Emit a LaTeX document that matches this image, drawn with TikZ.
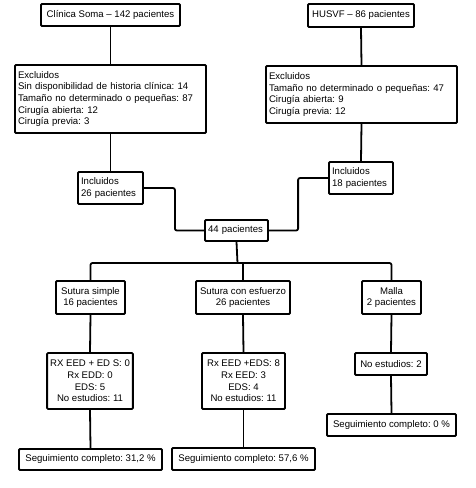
\documentclass[tikz,border=0pt]{standalone}
\usepackage{fontspec}
\setmainfont{Liberation Sans}
\frenchspacing
\begin{document}
\begin{tikzpicture}[x=1pt,y=-1pt,
  every node/.style={font=\fontsize{9.6}{11.7}\selectfont},
  box/.style={draw, line width=1.8pt, rounded corners=1pt, inner xsep=3pt, inner ysep=0pt, fill=white},
  lbox/.style={box, align=left},
  cbox/.style={box, align=center},
  conn/.style={line width=1.8pt, rounded corners=2pt}]
\useasboundingbox (0,0) rectangle (475,488);
% nodes
\node[cbox, minimum width=139pt, minimum height=22pt] (A) at (110.5,15) {Clínica Soma – 142 pacientes};
\node[cbox, minimum width=106pt, minimum height=23pt] (B) at (361,15.5) {HUSVF – 86 pacientes};
\node[lbox, text width=185pt, minimum height=68pt] (C) at (110.5,99) {Excluidos\\Sin disponibilidad de historia clínica: 14\\Tamaño no determinado o pequeñas: 87\\Cirugía abierta: 12\\Cirugía previa: 3};
\node[lbox, text width=185pt, minimum height=57pt] (D) at (361.5,94.5) {Excluidos\\Tamaño no determinado o pequeñas: 47\\Cirugía abierta: 9\\Cirugía previa: 12};
\node[lbox, text width=59pt, minimum height=32pt] (E) at (110.5,188) {Incluidos\\26 pacientes};
\node[lbox, text width=58pt, minimum height=32pt] (F) at (361,178) {Incluidos\\18 pacientes};
\node[lbox, text width=57pt, minimum height=21pt] (G) at (236.5,230.5) {44 pacientes};
\node[cbox, minimum width=69pt, minimum height=33pt] (H) at (90.5,297.5) {Sutura simple\\16 pacientes};
\node[cbox, minimum width=94pt, minimum height=33pt] (I) at (243,297.5) {Sutura con esfuerzo\\26 pacientes};
\node[cbox, minimum width=59pt, minimum height=33pt] (J) at (391.5,297.5) {Malla\\2 pacientes};
\node[cbox, minimum width=84pt, minimum height=56pt] (K) at (90,381) {RX EED + ED S: 0\\Rx EDD: 0\\EDS: 5\\No estudios: 11};
\node[cbox, minimum width=83pt, minimum height=56pt] (L) at (243.5,381) {Rx EED +EDS: 8\\Rx EED: 3\\EDS: 4\\No estudios: 11};
\node[cbox, minimum width=72pt, minimum height=22pt] (M) at (391,364) {No estudios: 2};
\node[cbox, minimum width=143pt, minimum height=21pt] (N) at (90.5,459.5) {Seguimiento completo: 31,2 \%};
\node[cbox, minimum width=143pt, minimum height=22pt] (O) at (243.5,459) {Seguimiento completo: 57,6 \%};
\node[cbox, minimum width=129pt, minimum height=22pt] (P) at (391.5,425) {Seguimiento completo: 0 \%};
\coordinate (bar) at (237.5,263);
% connectors
\draw[conn] (A.south) -- (C.north);
\draw[conn] (B.south) -- (D.north);
\draw[conn] (C.south) -- (E.north);
\draw[conn] (D.south) -- (F.north);
\draw[conn] (E.east) -- ++(31,0) |- (G.west);
\draw[conn] (F.west) -- ++(-30,0) |- (G.east);
\draw[conn] (G.south) -- (bar);
\draw[conn] (H.north) |- (bar) -| (J.north);
\draw[conn] (I.north) -- (I.north |- bar);
\draw[conn] (H.south) -- (K.north);
\draw[conn] (K.south) -- (N.north);
\draw[conn] (I.south) -- (L.north);
\draw[conn] (L.south) -- (O.north);
\draw[conn] (J.south) -- (M.north);
\draw[conn] (M.south) -- (P.north);
\end{tikzpicture}
\end{document}
